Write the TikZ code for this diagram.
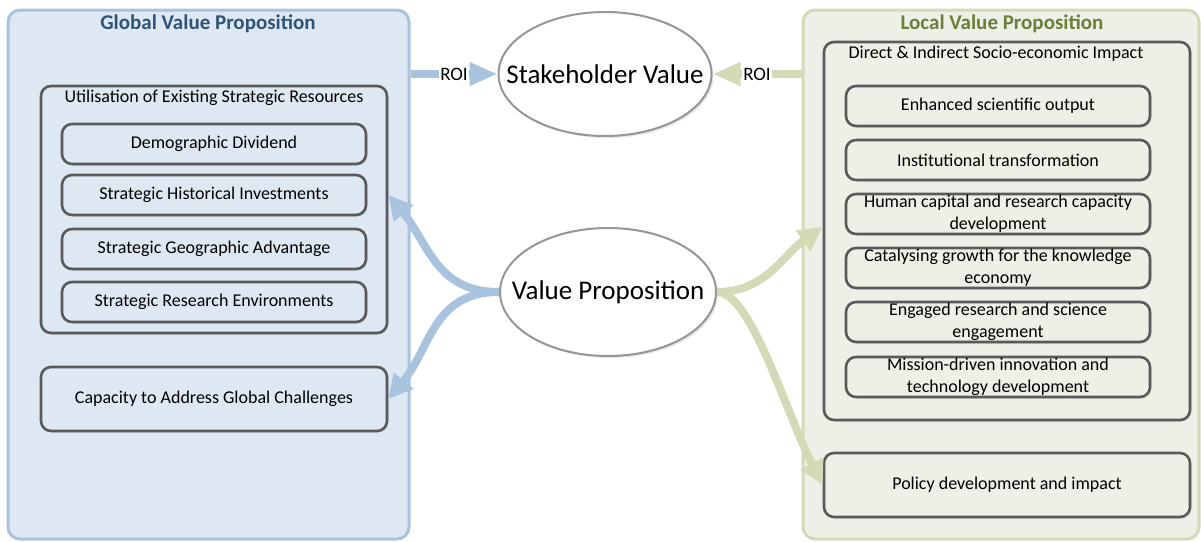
\documentclass[tikz,border=0pt]{standalone}
\usepackage{fontspec}
\setmainfont{Carlito}
\usetikzlibrary{arrows.meta,shapes.geometric,shadows}
\definecolor{bluefill}{HTML}{DEE8F3}
\definecolor{blueline}{HTML}{A7C3DE}
\definecolor{bluetitle}{HTML}{2F5479}
\definecolor{greenfill}{HTML}{EDF0E6}
\definecolor{greenline}{HTML}{D3DBB6}
\definecolor{greentitle}{HTML}{6A7F38}
\definecolor{boxline}{HTML}{5A5A5A}
\definecolor{ellline}{HTML}{969696}
\begin{document}
\begin{tikzpicture}[x=1pt,y=-1pt,
  bigbox/.style={rectangle, rounded corners=12pt, line width=3pt, inner sep=0pt},
  title/.style={font=\fontsize{21}{24}\selectfont\bfseries},
  itembox/.style={rectangle, rounded corners=10pt, draw=boxline, line width=2.6pt, inner sep=0pt,
    align=center, font=\fontsize{18}{22}\selectfont,
    drop shadow={opacity=0.25, shadow xshift=1.5pt, shadow yshift=-1.5pt}},
  lbox/.style={itembox, fill=bluefill},
  rbox/.style={itembox, fill=greenfill},
  grouptitle/.style={font=\fontsize{18}{20}\selectfont},
  oval/.style={ellipse, draw=ellline, line width=2pt, fill=white, inner sep=0pt,
    font=\fontsize{27}{30}\selectfont,
    drop shadow={opacity=0.2, shadow xshift=2pt, shadow yshift=-2pt}},
  roiarrow/.style={line width=8pt, -{Triangle[length=28pt,width=22pt]}},
  roilabel/.style={fill=white, inner sep=1pt, font=\fontsize{19}{21}\selectfont},
  flow/.style={line width=8pt, -{Triangle[length=24pt,width=24pt]}}
]
\useasboundingbox (0,0) rectangle (1201,541);

% big containers
\node[bigbox, draw=blueline, fill=bluefill, minimum width=401pt, minimum height=529pt] (gvp) at (208.5,274.5) {};
\node[bigbox, draw=greenline, fill=greenfill, minimum width=396pt, minimum height=529pt] (lvp) at (1001,274.5) {};
\node[title, text=bluetitle] (gvpt) at (208,24) {Global Value Proposition};
\node[title, text=greentitle] (lvpt) at (1002,24) {Local Value Proposition};

% left groups
\node[lbox, minimum width=346pt, minimum height=247pt] (util) at (214,209.5) {};
\node[grouptitle] (utilt) at (214,98) {Utilisation of Existing Strategic Resources};
\node[lbox, minimum width=304pt, minimum height=40pt] (demo) at (214,144) {Demographic Dividend};
\node[lbox, minimum width=304pt, minimum height=40pt] (hist) at (214,195) {Strategic Historical Investments};
\node[lbox, minimum width=304pt, minimum height=40pt] (geo) at (214,249) {Strategic Geographic Advantage};
\node[lbox, minimum width=304pt, minimum height=40pt] (res) at (214,302) {Strategic Research Environments};
\node[lbox, minimum width=346pt, minimum height=64pt] (cap) at (214,399) {Capacity to Address Global Challenges};

% right groups
\node[rbox, minimum width=366pt, minimum height=378pt] (direct) at (1007,231) {};
\node[grouptitle] (directt) at (996,54) {Direct \& Indirect Socio-economic Impact};
\node[rbox, minimum width=304pt, minimum height=40pt] (sci) at (998,106) {Enhanced scientific output};
\node[rbox, minimum width=304pt, minimum height=40pt] (inst) at (998,160) {Institutional transformation};
\node[rbox, minimum width=304pt, minimum height=40pt] (human) at (998,214) {Human capital and research capacity\\development};
\node[rbox, minimum width=304pt, minimum height=40pt] (cat) at (998,268) {Catalysing growth for the knowledge\\economy};
\node[rbox, minimum width=304pt, minimum height=40pt] (eng) at (998,322) {Engaged research and science\\engagement};
\node[rbox, minimum width=304pt, minimum height=40pt] (mis) at (998,377) {Mission-driven innovation and\\technology development};
\node[rbox, minimum width=366pt, minimum height=64pt] (pol) at (1007,485) {Policy development and impact};

% ellipses
\node[oval, minimum width=213pt, minimum height=124pt] (sv) at (605,74) {\makebox[0pt]{Stakeholder Value}};
\node[oval, minimum width=216pt, minimum height=128pt] (vp) at (608,292) {\makebox[0pt]{Value Proposition}};

% ROI arrows
\draw[roiarrow, draw=blueline] (gvp.east |- sv.west) -- (sv.west)
  node[roilabel, pos=0.5] {ROI};
\draw[roiarrow, draw=greenline] (lvp.west |- sv.east) -- (sv.east)
  node[roilabel, pos=0.5] {ROI};

% flows
\draw[flow, draw=blueline] (vp.west) to[out=180, in=-50, looseness=1.1] (util.east |- hist.east);
\draw[flow, draw=blueline] (vp.west) to[out=180, in=50, looseness=1.1] (cap.east);
\draw[flow, draw=greenline] (vp.east) to[out=0, in=215, looseness=1.0] ([yshift=4pt]direct.west);
\draw[flow, draw=greenline] (vp.east) .. controls +(34,0) and +(-38,-75) .. (pol.west);
\end{tikzpicture}
\end{document}
